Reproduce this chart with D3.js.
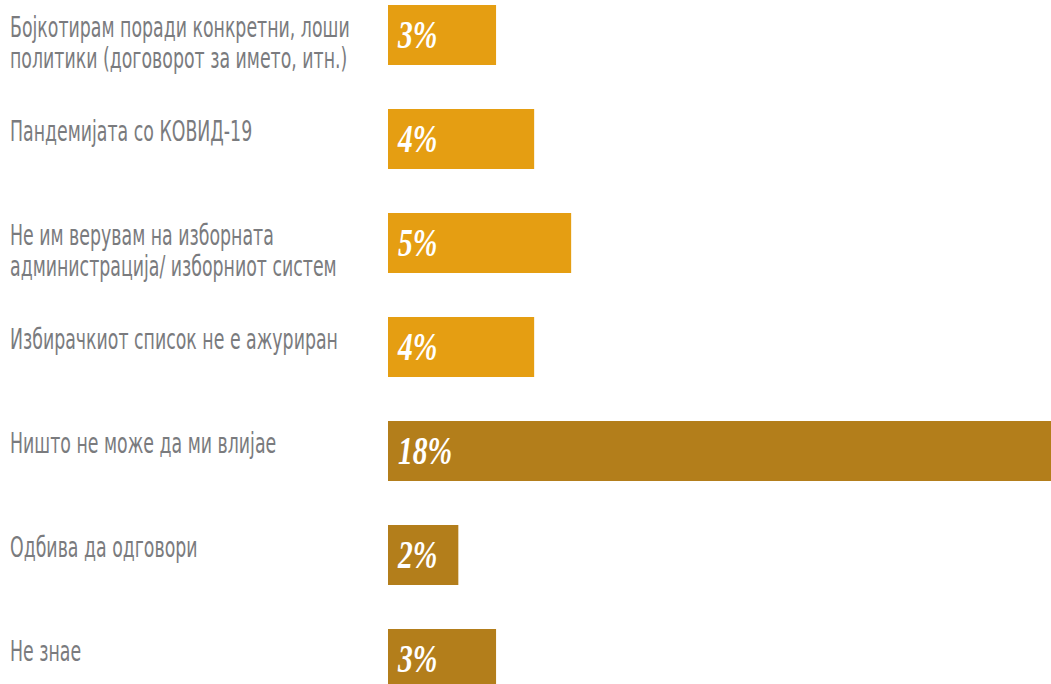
<!DOCTYPE html>
<html>
<head>
<meta charset="utf-8">
<script src="https://cdn.jsdelivr.net/npm/d3@7"></script>
<style>
  html, body { margin: 0; padding: 0; background: #fff; }
  svg { display: block; }
</style>
</head>
<body>
<svg id="chart" width="1051" height="684"></svg>
<script>
const categories = [
  "Бојкотирам поради конкретни, лоши\nполитики (договорот за името, итн.)",
  "Пандемијата со КОВИД-19",
  "Не им верувам на изборната\nадминистрација/ изборниот систем",
  "Избирачкиот список не е ажуриран",
  "Ништо не може да ми влијае",
  "Одбива да одговори",
  "Не знае"
];
const values = [2.95, 3.99, 5.0, 3.99, 18.1, 1.92, 2.95];
const valueLabels = ["3%", "4%", "5%", "4%", "18%", "2%", "3%"];
const groups = ["a", "a", "a", "a", "b", "b", "b"];

const W = 1051, H = 684;
const svg = d3.select("#chart");

const x = d3.scaleLinear().domain([0, 18.1]).range([388, 1051]);
const y = d3.scaleBand().domain(categories).range([5, 689]).paddingInner(44 / 104).paddingOuter(0);
const color = d3.scaleOrdinal().domain(["a", "b"]).range(["#E59E12", "#B37E1B"]);

const rows = categories.map((c, i) => ({ c, v: values[i], l: valueLabels[i], g: groups[i] }));

svg.selectAll("rect.bar").data(rows).join("rect")
  .attr("class", "bar")
  .attr("x", x(0))
  .attr("y", d => y(d.c))
  .attr("width", d => x(d.v) - x(0))
  .attr("height", y.bandwidth())
  .attr("fill", d => color(d.g));

// category labels
const lab = svg.selectAll("g.lab").data(rows).join("g")
  .attr("class", "lab")
  .attr("transform", d => `translate(10,${y(d.c) + 32}) scale(0.62,1)`);
lab.each(function(d) {
  const lines = d.c.split("\n");
  d3.select(this).selectAll("text").data(lines).join("text")
    .attr("x", 0)
    .attr("y", (t, i) => i * 31)
    .attr("fill", "#7A7B7E")
    .style("font-family", "'DejaVu Sans', sans-serif")
    .style("font-size", "28px")
    .text(t => t);
});

// value labels
svg.selectAll("g.val").data(rows).join("g")
  .attr("class", "val")
  .attr("transform", d => `translate(398,${y(d.c) + y.bandwidth() / 2 + 13}) scale(0.74,1)`)
  .append("text")
  .attr("fill", "#fff")
  .style("font-family", "'Liberation Serif', 'DejaVu Serif', serif")
  .style("font-style", "italic")
  .style("font-weight", "bold")
  .style("font-size", "40px")
  .text(d => d.l);
</script>
</body>
</html>
